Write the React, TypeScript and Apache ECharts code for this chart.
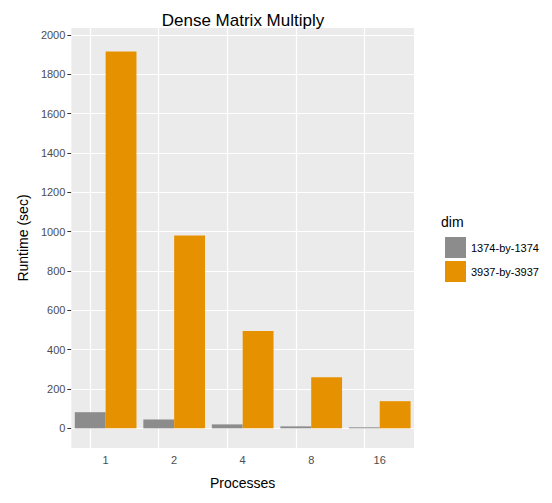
import React, { useEffect, useRef } from "react";
import * as echarts from "echarts";

const categories = ["1", "2", "4", "8", "16"];
const small = [82, 45, 20, 10, 5];
const large = [1915, 980, 495, 260, 138];
const majorTicks = [0, 200, 400, 600, 800, 1000, 1200, 1400, 1600, 1800, 2000];

export default function App() {
  const ref = useRef<HTMLDivElement>(null);
  useEffect(() => {
    const chart = echarts.init(ref.current!, null, { renderer: "svg" });
    const white = { color: "#ffffff", width: 1.2 };
    chart.setOption({
      animation: false,
      title: {
        text: "Dense Matrix Multiply",
        left: 230,
        textAlign: "center",
        top: -1,
        textStyle: { fontFamily: "Liberation Sans", fontSize: 17, fontWeight: "normal", color: "#000" },
      },
      legend: {
        orient: "vertical",
        left: 432,
        top: 224,
        itemWidth: 21,
        itemHeight: 21,
        itemGap: 3,
        icon: "rect",
        textStyle: { fontFamily: "Liberation Sans", fontSize: 11, color: "#000" },
        data: ["1374-by-1374", "3937-by-3937"],
      },
      graphic: [
        {
          type: "text",
          left: 433,
          top: 207,
          style: { text: "dim", font: "14px 'Liberation Sans'", fill: "#000" },
        },
      ],
      grid: {
        left: 54,
        right: 130,
        top: 20,
        bottom: 33,
        show: true,
        backgroundColor: "#ebebeb",
        borderWidth: 0,
      },
      xAxis: {
        type: "category",
        data: categories,
        name: "Processes",
        nameLocation: "middle",
        nameGap: 28,
        nameTextStyle: { fontFamily: "Liberation Sans", fontSize: 14, color: "#000" },
        axisLine: { show: false },
        axisTick: { alignWithLabel: true, length: 4, lineStyle: { color: "#333" } },
        axisLabel: { fontFamily: "Liberation Sans", fontSize: 11, color: "#4d4d4d", margin: 6 },
        splitLine: { show: false },
      },
      yAxis: {
        type: "value",
        min: -100,
        max: 2035,
        interval: 100,
        name: "Runtime (sec)",
        nameLocation: "middle",
        nameGap: 40,
        nameTextStyle: { fontFamily: "Liberation Sans", fontSize: 14, color: "#000" },
        axisLine: { show: false },
        axisTick: { show: true, length: 4, customValues: majorTicks, lineStyle: { color: "#333" } },
        axisLabel: {
          fontFamily: "Liberation Sans",
          fontSize: 11,
          color: "#4d4d4d",
          margin: 6,
          customValues: majorTicks,
          formatter: (v: number) => String(v),
        },
        splitLine: { show: true, lineStyle: { color: "#ffffff", width: 0.5 } },
      },
      series: [
        {
          name: "1374-by-1374",
          type: "bar",
          data: small,
          itemStyle: { color: "#8c8c8c" },
          barGap: "0%",
          barCategoryGap: "10%",
          z: 3,
          markLine: {
            silent: true,
            symbol: "none",
            label: { show: false },
            lineStyle: { ...white, type: "solid" },
            z: 1,
            data: [
              ...majorTicks.map((v) => ({ yAxis: v })),
              ...categories.map((c) => ({ xAxis: c })),
            ],
          },
        },
        {
          name: "3937-by-3937",
          type: "bar",
          data: large,
          itemStyle: { color: "#e69100" },
          z: 3,
        },
      ],
    });
    return () => chart.dispose();
  }, []);
  return <div ref={ref} style={{ width: 536, height: 487 }} />;
}
